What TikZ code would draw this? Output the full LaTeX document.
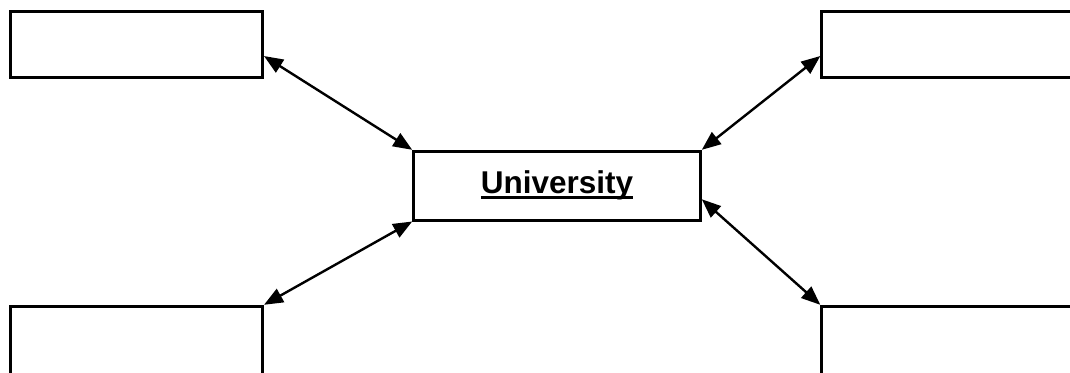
\documentclass[tikz,border=0pt]{standalone}
\usepackage{fontspec}
\setmainfont{Liberation Sans}
\usetikzlibrary{arrows.meta,calc}
\newcommand\myuline[1]{\setbox0\hbox{#1}\rlap{\rule[-5pt]{\wd0}{3.2pt}}\box0}
\begin{document}
\begin{tikzpicture}[x=1pt,y=-1pt,
  box/.style={draw=black,line width=3pt,fill=none,inner sep=0pt},
  conn/.style={line width=2.4pt,{Triangle[length=19pt,width=15pt]}-{Triangle[length=19pt,width=15pt]}}]
\useasboundingbox (0,0) rectangle (1070,372);
\node[box,minimum width=251.7pt,minimum height=66pt] (tl) at (136.65,44.3) {};
\node[box,minimum width=260pt,minimum height=66pt] (tr) at (951.8,44.3) {};
\node[box,minimum width=251.7pt,minimum height=76pt] (bl) at (136.65,344.3) {};
\node[box,minimum width=260pt,minimum height=76pt] (br) at (951.8,344.3) {};
\node[box,minimum width=286.6pt,minimum height=68.7pt,font=\fontsize{31.5}{36}\bfseries\selectfont] (c) at (557,185.65) {\myuline{University}};
\draw[conn] ($(tl.south east)!0.33!(tl.north east)$) -- (c.north west);
\draw[conn] ($(tr.south west)!0.33!(tr.north west)$) -- (c.north east);
\draw[conn] (bl.north east) -- (c.south west);
\draw[conn] (br.north west) -- ($(c.south east)!0.31!(c.north east)$);
\end{tikzpicture}
\end{document}
